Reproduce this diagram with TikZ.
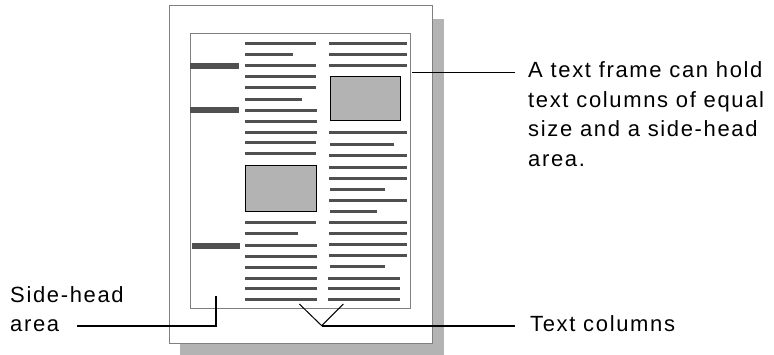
\documentclass[tikz,border=0pt]{standalone}
\usepackage{fontspec}
\usepackage{tikz}
\usetikzlibrary{positioning}
\newfontfamily\labelfont{Liberation Sans}[LetterSpace=7.5]
\definecolor{rulegray}{HTML}{808080}
\definecolor{bargray}{HTML}{505050}
\definecolor{shadegray}{HTML}{B3B3B3}
\tikzset{
  textline/.style={line width=3pt, color=bargray},
  headbar/.style={line width=6pt, color=bargray},
  picbox/.style={draw=black, line width=1pt, fill=shadegray},
  callout/.style={line width=1.8pt, color=black},
  vstroke/.style={line width=1pt, color=black},
  labeltext/.style={inner sep=0pt, align=left, font=\labelfont\fontsize{22}{29.5}\selectfont}
}
\begin{document}
\begin{tikzpicture}[line cap=butt,line join=miter,x=1pt,y=-1pt]
\useasboundingbox (0,0) rectangle (774,355);
% page with shadow
\fill [shadegray] (180,19) rectangle (444,355);
\draw [rulegray, fill=white, line width=1pt] (169,6) rectangle (432,344);
\draw [rulegray, line width=1pt] (190,34) rectangle (410,309);
% side heads
\draw [headbar] (190,65.8) -- (239,65.8);
\draw [headbar] (190,110) -- (239,110);
\draw [headbar] (192,245.7) -- (240,245.7);
% first column
\foreach \y/\xe in {43.3/316,54.3/293,65.3/316,76.3/316,87.3/316,99.3/302,110.3/317,121.3/317,132.3/317,142.3/316,153.3/316,222.3/316,233.3/298,245.3/317,256.3/317,267.3/317,278.3/317,288.3/317,299.3/317}
  \draw [textline] (245,\y) -- (\xe,\y);
\draw [picbox] (245,166) rectangle (316,211.7);
% second column
\foreach \y/\xs/\xe in {43.3/329/407,54.3/329/407,65.3/329/407,132.3/329/407,144.3/330/394,155.3/329/407,167.3/329/407,178.3/329/407,189.3/330/385,200.3/329/407,211.3/330/377,222.3/329/407,233.3/329/407,244.3/329/407,255.3/329/407,266.3/330/385,278.3/328/400,288.3/328/400,299.3/328/400}
  \draw [textline] (\xs,\y) -- (\xe,\y);
\draw [picbox] (330.3,76.3) rectangle (400.7,120.3);
% callouts (base anchor sits on the last line)
\node [labeltext, anchor=base west] (frametxt) at (528,166.5) {A text frame can hold\\text columns of equal\\size and a side-head\\area.};
\node [labeltext, anchor=base west] (sidetxt) at (10,331.7) {Side-head\\area};
\node [labeltext, anchor=base west] (coltxt) at (530,331.7) {Text columns};
\coordinate (framept) at (412,72.5);
\coordinate (sidept) at (216,295.7);
\coordinate (sidecorner) at (216,325.7);
\coordinate (sideend) at (77,325.7);
\coordinate (colA) at (299.3,304);
\coordinate (vtip) at (321.7,325.7);
\coordinate (colB) at (343.3,304);
\draw [callout] (framept) -- ([xshift=-13pt]frametxt.west |- framept);
\draw [callout] (sideend) -- (sidecorner) -- (sidept);
\draw [vstroke] (colA) -- (vtip) -- (colB);
\draw [callout] (vtip) -- ([xshift=-15pt]coltxt.west |- vtip);
\end{tikzpicture}
\end{document}
